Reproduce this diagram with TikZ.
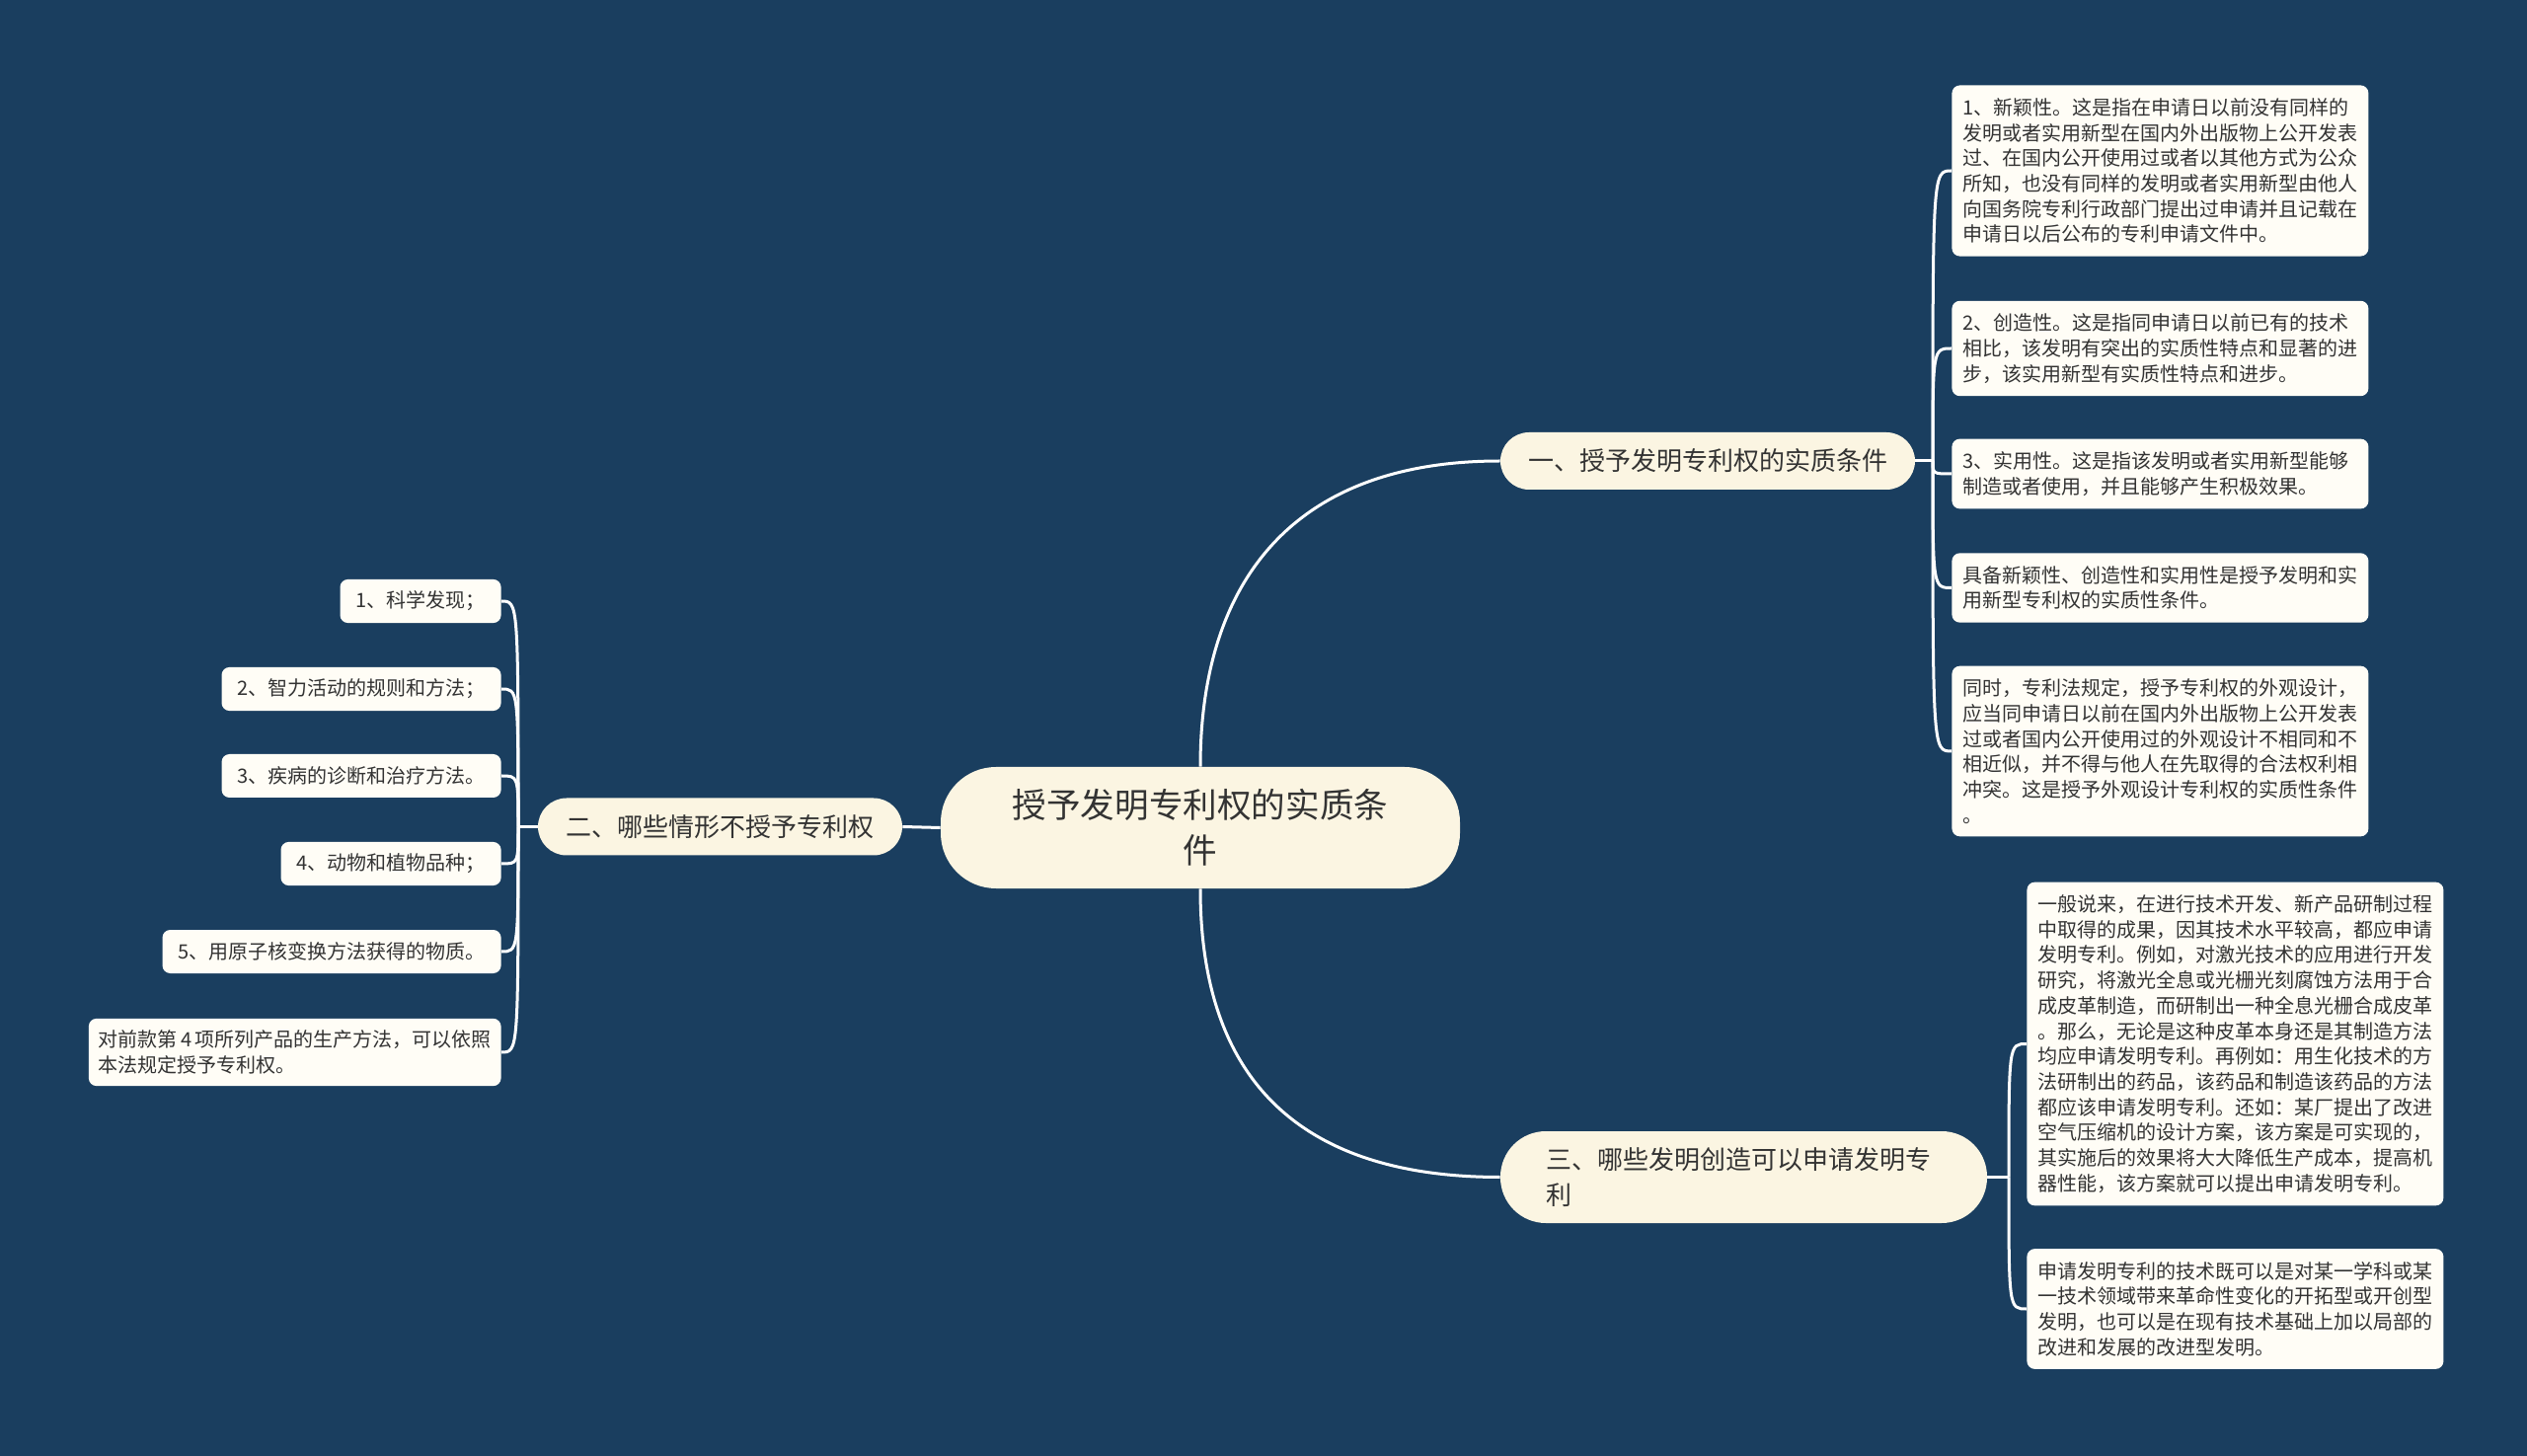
\documentclass[tikz,border=0pt]{standalone}
\usepackage{fontspec}
\newfontfamily\cjk{Noto Sans CJK SC}
\usetikzlibrary{backgrounds}
\definecolor{bgc}{HTML}{1A3E5F}
\definecolor{creamc}{HTML}{FBF5E2}
\definecolor{leafc}{HTML}{FFFDF6}
\definecolor{txtc}{HTML}{333333}
\definecolor{linec}{HTML}{FFFFFF}
\tikzset{
  central/.style={fill=creamc, rounded corners=28pt, minimum width=263pt, minimum height=61.5pt,
    align=center, inner sep=0pt, text=txtc, font=\cjk\fontsize{17.3}{22.9}\selectfont},
  branch/.style={fill=creamc, rounded corners=14.5pt, minimum height=29pt, inner xsep=14pt,
    inner ysep=0pt, text=txtc, font=\cjk\fontsize{13}{17.9}\selectfont},
  leafbox/.style={fill=leafc, rounded corners=4pt, text width=200pt, align=left,
    inner xsep=5.5pt, inner ysep=6.5pt, text=txtc, font=\cjk\fontsize{10}{12.85}\selectfont},
  lleaf/.style={fill=leafc, rounded corners=4pt, inner xsep=8pt, inner ysep=6pt,
    minimum height=22pt, align=left, text=txtc, font=\cjk\fontsize{10}{12.85}\selectfont},
  conn/.style={draw=linec, line width=1.5pt}
}
\begin{document}
\begin{tikzpicture}[x=0.5pt,y=-0.5pt]
\useasboundingbox (0,0) rectangle (2560,1475);

% central and branches
\node[central] (c) at (1216,838.5) {授予发明专利权的实质条\\件};
\node[branch, minimum width=210pt] (b1) at (1730,467) {一、授予发明专利权的实质条件};
\node[branch, minimum width=184.5pt] (b2) at (729.5,837.5) {二、哪些情形不授予专利权};
\node[branch, rounded corners=23pt, text width=200pt, align=left, inner xsep=23.25pt,
  minimum height=46.5pt] (b3) at (1766.5,1192.5) {三、哪些发明创造可以申请发明专\\利};

% branch 1 leaves
\node[leafbox, anchor=west] (l1) at (1977,173) {1、新颖性。这是指在申请日以前没有同样的\\
发明或者实用新型在国内外出版物上公开发表\\
过、在国内公开使用过或者以其他方式为公众\\
所知，也没有同样的发明或者实用新型由他人\\
向国务院专利行政部门提出过申请并且记载在\\
申请日以后公布的专利申请文件中。};
\node[leafbox, anchor=west] (l2) at (1977,353) {2、创造性。这是指同申请日以前已有的技术\\
相比，该发明有突出的实质性特点和显著的进\\
步，该实用新型有实质性特点和进步。};
\node[leafbox, anchor=west] (l3) at (1977,480) {3、实用性。这是指该发明或者实用新型能够\\
制造或者使用，并且能够产生积极效果。};
\node[leafbox, anchor=west] (l4) at (1977,595.5) {具备新颖性、创造性和实用性是授予发明和实\\
用新型专利权的实质性条件。};
\node[leafbox, anchor=west] (l5) at (1977,761) {同时，专利法规定，授予专利权的外观设计，\\
应当同申请日以前在国内外出版物上公开发表\\
过或者国内公开使用过的外观设计不相同和不\\
相近似，并不得与他人在先取得的合法权利相\\
冲突。这是授予外观设计专利权的实质性条件\\
。};

% branch 3 leaves
\node[leafbox, anchor=west] (r1) at (2053,1057.5) {一般说来，在进行技术开发、新产品研制过程\\
中取得的成果，因其技术水平较高，都应申请\\
发明专利。例如，对激光技术的应用进行开发\\
研究，将激光全息或光栅光刻腐蚀方法用于合\\
成皮革制造，而研制出一种全息光栅合成皮革\\
。那么，无论是这种皮革本身还是其制造方法\\
均应申请发明专利。再例如：用生化技术的方\\
法研制出的药品，该药品和制造该药品的方法\\
都应该申请发明专利。还如：某厂提出了改进\\
空气压缩机的设计方案，该方案是可实现的，\\
其实施后的效果将大大降低生产成本，提高机\\
器性能，该方案就可以提出申请发明专利。};
\node[leafbox, anchor=west] (r2) at (2053,1326) {申请发明专利的技术既可以是对某一学科或某\\
一技术领域带来革命性变化的开拓型或开创型\\
发明，也可以是在现有技术基础上加以局部的\\
改进和发展的改进型发明。};

% branch 2 leaves
\node[lleaf, anchor=east] (m1) at (508,609) {1、科学发现；};
\node[lleaf, anchor=east] (m2) at (508,698) {2、智力活动的规则和方法；};
\node[lleaf, anchor=east] (m3) at (508,786) {3、疾病的诊断和治疗方法。};
\node[lleaf, anchor=east] (m4) at (508,875) {4、动物和植物品种；};
\node[lleaf, anchor=east] (m5) at (508,964) {5、用原子核变换方法获得的物质。};
\node[lleaf, anchor=east, inner xsep=5pt] (m6) at (508,1066) {对前款第\,4\,项所列产品的生产方法，可以依照\\本法规定授予专利权。};

\coordinate (s1) at (1958,467);
\coordinate (s2) at (525,837.5);
\coordinate (s3) at (2035,1192.5);

\begin{pgfonlayer}{background}
\fill[bgc] (0,0) rectangle (2560,1475);
\draw[conn] (c.north) .. controls (1216,600) and (1300,467) .. (b1.west);
\draw[conn] (c.south) .. controls (1216,1077) and (1300,1192.5) .. (b3.west);
\draw[conn] (c.west) -- (b2.east);
\draw[conn] (b1.east) -- (s1);
\foreach \n in {l1,l2,l3,l4,l5} {
  \draw[conn] (s1) .. controls (s1 |- \n.west) .. (\n.west);
}
\draw[conn] (b2.west) -- (s2);
\foreach \n in {m1,m2,m3,m4,m5,m6} {
  \draw[conn] (s2) .. controls (s2 |- \n.east) .. (\n.east);
}
\draw[conn] (b3.east) -- (s3);
\foreach \n in {r1,r2} {
  \draw[conn] (s3) .. controls (s3 |- \n.west) .. (\n.west);
}
\end{pgfonlayer}
\end{tikzpicture}
\end{document}
